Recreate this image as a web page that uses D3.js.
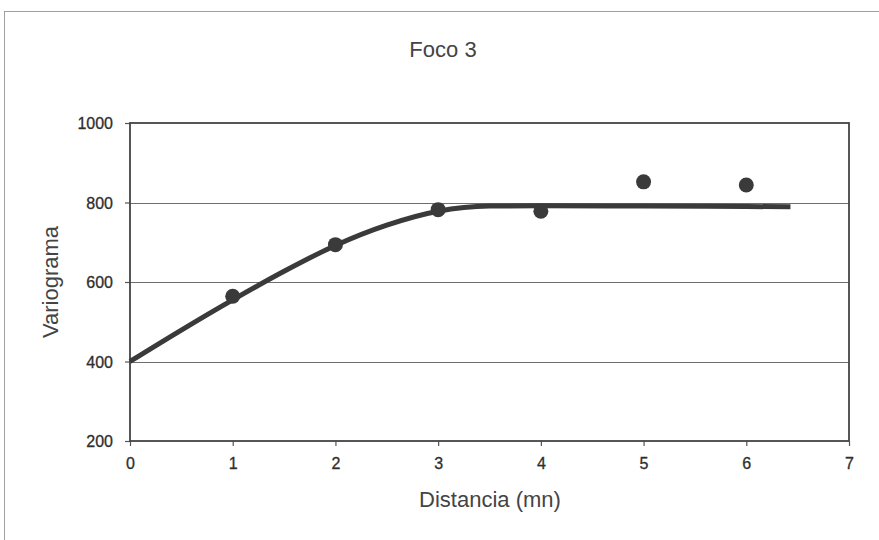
<!DOCTYPE html>
<html>
<head>
<meta charset="utf-8">
<script src="https://cdn.jsdelivr.net/npm/d3@7"></script>
<style>
  html, body { margin: 0; padding: 0; background: #fff; }
  svg { display: block; font-family: "Liberation Sans", Arial, sans-serif; }
</style>
</head>
<body>
<svg id="chart" width="879" height="540"></svg>
<script>
// Experimental variogram (distance in nautical miles)
const distances = [1, 2, 3, 4, 5, 6];
const variogram = [564, 694, 782, 778, 852, 844];

// Fitted model curve, sampled
const modelDist = [0, 0.5, 1, 1.5, 2, 2.5, 3, 3.5, 4, 5, 6, 6.43];
const modelVal  = [400, 479, 555, 627, 692, 743, 778, 791, 792, 791, 790, 789];

const xTicks = [0, 1, 2, 3, 4, 5, 6, 7];
const yTicks = [200, 400, 600, 800, 1000];

const title = "Foco 3";
const xTitle = "Distancia (mn)";
const yTitle = "Variograma";

const svg = d3.select("#chart");

// outer frame
svg.append("rect")
  .attr("x", 4.5).attr("y", 11.5)
  .attr("width", 900).attr("height", 600)
  .attr("fill", "none").attr("stroke", "#a0a0a0").attr("stroke-width", 1);

const plot = { left: 130, right: 849, top: 123, bottom: 441 };

const x = d3.scaleLinear().domain([0, 7]).range([plot.left, plot.right]);
const y = d3.scaleLinear().domain([200, 1000]).range([plot.bottom, plot.top]);

// horizontal gridlines
svg.append("g")
  .selectAll("line")
  .data(yTicks.filter(v => v > 200 && v < 1000))
  .join("line")
  .attr("x1", plot.left).attr("x2", plot.right)
  .attr("y1", d => Math.round(y(d)) + 0.5).attr("y2", d => Math.round(y(d)) + 0.5)
  .attr("stroke", "#6e6e6e").attr("stroke-width", 1);

// axes
const xAxis = svg.append("g")
  .attr("transform", `translate(0,${plot.bottom})`)
  .call(d3.axisBottom(x).tickValues(xTicks).tickFormat(d3.format("d")).tickSize(5).tickPadding(12));
const yAxis = svg.append("g")
  .attr("transform", `translate(${plot.left},0)`)
  .call(d3.axisLeft(y).tickValues(yTicks).tickFormat(d3.format("d")).tickSize(5).tickPadding(12));

[xAxis, yAxis].forEach(g => {
  g.select(".domain").remove();
  g.selectAll(".tick line").attr("stroke", "#555").attr("stroke-width", 1.2);
  g.selectAll(".tick text")
    .attr("fill", "#2e2e2e")
    .attr("stroke", "#2e2e2e")
    .attr("stroke-width", 0.3)
    .attr("font-size", 16)
    .attr("font-family", "\"Liberation Sans\", Arial, sans-serif");
});
yAxis.selectAll(".tick text").attr("dy", "0.35em");

// plot-area border
svg.append("rect")
  .attr("x", plot.left).attr("y", plot.top)
  .attr("width", plot.right - plot.left).attr("height", plot.bottom - plot.top)
  .attr("fill", "none").attr("stroke", "#444").attr("stroke-width", 1.8);

// model curve
const line = d3.line()
  .x((d, i) => x(modelDist[i]))
  .y(d => y(d))
  .curve(d3.curveMonotoneX);

svg.append("path")
  .datum(modelVal)
  .attr("d", line)
  .attr("fill", "none")
  .attr("stroke", "#3a3a3a")
  .attr("stroke-width", 5)
  .attr("stroke-linecap", "butt");

// experimental points
svg.append("g")
  .selectAll("circle")
  .data(variogram)
  .join("circle")
  .attr("cx", (d, i) => x(distances[i]))
  .attr("cy", d => y(d))
  .attr("r", 7.5)
  .attr("fill", "#3a3a3a");

// titles
svg.append("text")
  .attr("x", 443).attr("y", 57)
  .attr("text-anchor", "middle")
  .attr("font-size", 22)
  .attr("fill", "#444")
  .text(title);

svg.append("text")
  .attr("x", 490).attr("y", 507)
  .attr("text-anchor", "middle")
  .attr("font-size", 22)
  .attr("fill", "#444")
  .text(xTitle);

svg.append("text")
  .attr("transform", "translate(58,282) rotate(-90)")
  .attr("text-anchor", "middle")
  .attr("font-size", 22)
  .attr("fill", "#444")
  .text(yTitle);
</script>
</body>
</html>
